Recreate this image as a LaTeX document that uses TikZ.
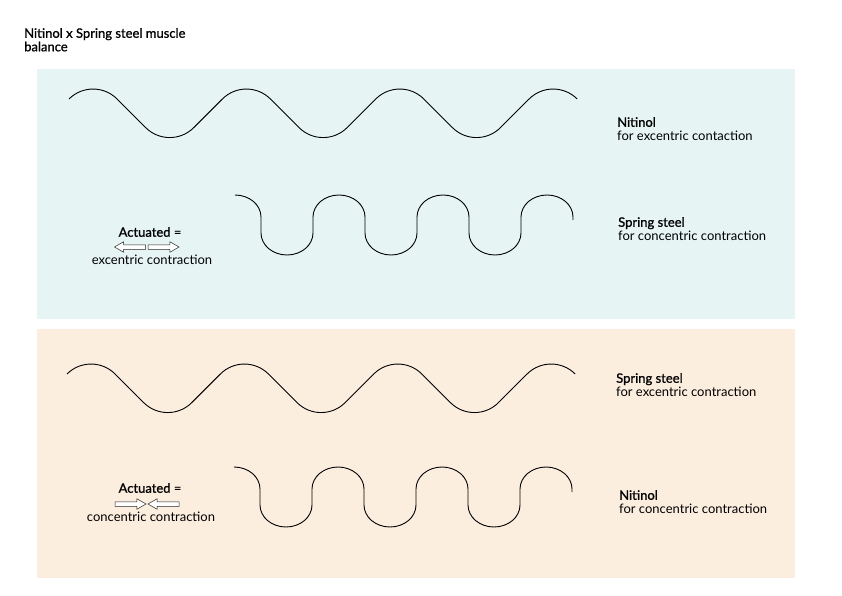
\documentclass[tikz,border=0pt]{standalone}
\usepackage{fontspec}
\setmainfont{Lato}
\newfontfamily\medfont[FakeBold=1]{Lato}
\usetikzlibrary{shapes.arrows}
\definecolor{nitiblue}{HTML}{E6F5F4}
\definecolor{springpeach}{HTML}{FCEEDF}

\begin{document}
\begin{tikzpicture}[x=1pt, y=-1pt,
  wire/.style={draw=black, line width=0.9pt},
  sidetext/.style={anchor=north west, inner sep=0pt, align=left, font=\fontsize{13}{13.5}\selectfont},
  midtext/.style={inner sep=0pt, font=\fontsize{13}{13}\selectfont},
  blockarr/.style={single arrow, draw=black!85, fill=white, line width=0.5pt, inner sep=2pt,
    minimum height=31pt, single arrow head extend=3pt, single arrow head indent=0pt, single arrow tip angle=60}
]
  \useasboundingbox (0,0) rectangle (842,596);
  \fill[nitiblue] (37,69) rectangle (795,319);
  \fill[springpeach] (37,329) rectangle (795,578);

  \node[sidetext] (title) at (24,28) {\medfont Nitinol x Spring steel muscle\\\medfont balance};

  % smooth waves
  \foreach \x/\y in {69/99, 67/374}{
    \draw[wire] (\x,\y) arc[start angle=225, end angle=315, radius=34]
      \foreach \k in {1,2,3}{ -- ++(28.6,28.6) arc[start angle=135, end angle=45, radius=34]
        -- ++(28.6,-28.6) arc[start angle=225, end angle=315, radius=34] };
  }
  % loop waves
  \foreach \x/\y in {235/195, 234/467}{
    \draw[wire] (\x,\y) arc[start angle=270, end angle=360, x radius=26, y radius=22]
      \foreach \k in {1,2,3}{ -- ++(0,16) arc[start angle=180, end angle=0, x radius=26, y radius=22]
        -- ++(0,-16) arc[start angle=180, end angle=360, x radius=26, y radius=22] } -- ++(0,3);
  }

  \node[sidetext] (nitiTop) at (617,117) {{\medfont Nitinol}\\for excentric contaction};
  \node[sidetext] (springTop) at (618,217) {{\medfont Spring steel}\\for concentric contraction};
  \node[sidetext] (springBot) at (616,373) {{\medfont Spring steel}\\for excentric contraction};
  \node[sidetext] (nitiBot) at (619,490) {{\medfont Nitinol}\\for concentric contraction};

  \node[midtext] (actTop) at (150,232) {{\medfont Actuated =}};
  \node[blockarr, shape border rotate=180, anchor=tip] (outL) at (114,247) {};
  \node[blockarr, anchor=tip] (outR) at (179.5,247) {};
  \node[midtext] (excText) at (152,260) {excentric contraction};

  \node[midtext] (actBot) at (150,488) {{\medfont Actuated =}};
  \node[blockarr, anchor=tip] (inL) at (146.5,504) {};
  \node[blockarr, shape border rotate=180, anchor=tip] (inR) at (147.5,504) {};
  \node[midtext] (conText) at (151,517) {concentric contraction};
\end{tikzpicture}
\end{document}
